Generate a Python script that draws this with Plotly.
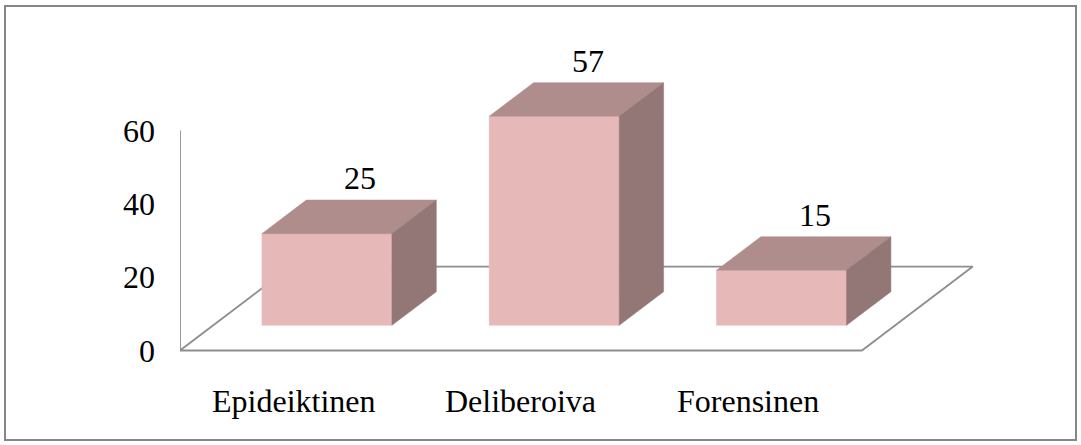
import plotly.graph_objects as go

# ---- data ----
categories = ["Epideiktinen", "Deliberoiva", "Forensinen"]
values = [25, 57, 15]
y_ticks = [0, 20, 40, 60]

# ---- presentation constants ----
W, H = 1081, 445
ML, MR, MT, MB = 180, 40, 8, 4
PX_PER_CAT = 227.3      # pixels per category unit
PX_PER_VAL = 3.667      # pixels per value unit
Y0_PX = 350.5           # pixel row of value 0 (front plane)
DEPTH_X = 0.488         # depth offset of floor, category units
DEPTH_Y = 22.9          # depth offset of floor, value units
BAR_W = 0.572
BAR_D0, BAR_D1 = 0.3, 0.7
FONT = "Liberation Serif, Times New Roman, serif"
FRONT = "#E6B9B8"
TOP = "#AF8D8C"
SIDE = "#937676"
LINE = "#8E8E8E"

PW = W - ML - MR
PH = H - MT - MB
x_range = [-0.5, -0.5 + PW / PX_PER_CAT]
y_range = [(Y0_PX - (H - MB)) / PX_PER_VAL, (Y0_PX - MT) / PX_PER_VAL]


def proj(x, y, d):
    return x + d * DEPTH_X, y + d * DEPTH_Y


def poly(points, color, line_color=None, width=0.5, fill=True):
    xs = [p[0] for p in points]
    ys = [p[1] for p in points]
    if fill:
        xs.append(xs[0]); ys.append(ys[0])
        return go.Scatter(x=xs, y=ys, mode="lines", fill="toself", fillcolor=color,
                          line=dict(color=line_color or color, width=width),
                          hoverinfo="skip", showlegend=False)
    return go.Scatter(x=xs, y=ys, mode="lines", line=dict(color=color, width=width),
                      hoverinfo="skip", showlegend=False)


fig = go.Figure()

n = len(categories)
x_lo, x_hi = -0.5, n - 0.5
# floor outline
floor = [proj(x_lo, 0, 0), proj(x_hi, 0, 0), proj(x_hi, 0, 1), proj(x_lo, 0, 1), proj(x_lo, 0, 0)]
fig.add_trace(poly(floor, LINE, width=1.8, fill=False))
# value axis line
fig.add_trace(poly([proj(x_lo, 0, 0), proj(x_lo, y_ticks[-1], 0)], LINE, width=1.8, fill=False))

annotations = []
for i, (cat, v) in enumerate(zip(categories, values)):
    x0, x1 = i - BAR_W / 2, i + BAR_W / 2
    front = [proj(x0, 0, BAR_D0), proj(x1, 0, BAR_D0), proj(x1, v, BAR_D0), proj(x0, v, BAR_D0)]
    top = [proj(x0, v, BAR_D0), proj(x1, v, BAR_D0), proj(x1, v, BAR_D1), proj(x0, v, BAR_D1)]
    side = [proj(x1, 0, BAR_D0), proj(x1, 0, BAR_D1), proj(x1, v, BAR_D1), proj(x1, v, BAR_D0)]
    fig.add_trace(poly(front, FRONT))
    fig.add_trace(poly(top, TOP))
    fig.add_trace(poly(side, SIDE))
    lx, ly = proj(i, v, BAR_D1)
    annotations.append(dict(x=lx, y=ly, xref="x", yref="y", text=str(v), showarrow=False,
                            xanchor="center", yanchor="middle", xshift=-11, yshift=22,
                            font=dict(family=FONT, size=32, color="#000000")))
    annotations.append(dict(x=i, y=0, xref="x", yref="y", text=cat, showarrow=False,
                            xanchor="center", yanchor="middle", yshift=-50,
                            font=dict(family=FONT, size=32, color="#000000")))

# outer border (pixel rectangle converted to paper coords)
bx0, by0, bx1, by1 = 5, 6, 1076, 440
shapes = [dict(type="rect", xref="paper", yref="paper",
               x0=(bx0 - ML) / PW, x1=(bx1 - ML) / PW,
               y0=((H - MB) - by1) / PH, y1=((H - MB) - by0) / PH,
               line=dict(color="#868686", width=2), fillcolor="rgba(0,0,0,0)", layer="below")]

fig.update_layout(
    width=W, height=H,
    margin=dict(l=ML, r=MR, t=MT, b=MB, autoexpand=False),
    paper_bgcolor="white", plot_bgcolor="white",
    showlegend=False,
    hovermode=False,
    xaxis=dict(range=x_range, visible=False, fixedrange=True),
    yaxis=dict(range=y_range, tickvals=y_ticks, ticktext=[str(t) for t in y_ticks],
               showgrid=False, zeroline=False, showline=False, ticks="",
               ticklabelstandoff=24,
               tickfont=dict(family=FONT, size=32, color="#000000"), fixedrange=True),
    annotations=annotations,
    shapes=shapes,
)

fig.write_html("out.html", config={"displayModeBar": False, "staticPlot": True},
               post_script="document.body.style.margin='0px';document.body.style.padding='0px';")
